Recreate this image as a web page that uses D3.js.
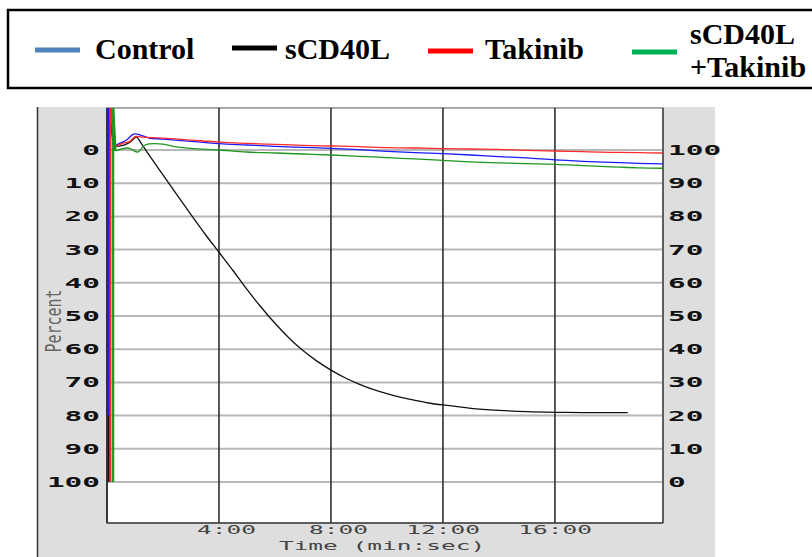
<!DOCTYPE html>
<html>
<head>
<meta charset="utf-8">
<script src="https://cdn.jsdelivr.net/npm/d3@7"></script>
<style>
  body { margin: 0; background: #fff; }
  svg { display: block; }
</style>
</head>
<body>
<svg id="chart" width="812" height="557"></svg>
<script>
// legend
var seriesNames = ["Control", "sCD40L", "Takinib", "sCD40L\n+Takinib"];
var legendColors = ["#4f81bd", "#000000", "#ff0000", "#00b050"];
var lineColors = ["#1a1aff", "#111111", "#ff2a2a", "#1e961e"];

// ticks
var percentTicks = [0, 10, 20, 30, 40, 50, 60, 70, 80, 90, 100];
var timeTicks = [4, 8, 12, 16];
var timeLabels = ["4:00", "8:00", "12:00", "16:00"];

// traces, [minutes, percent]; first two points are the injection spike
var controlData = [[0.03, 80], [0.03, -14], [0.25, -1], [0.45, -2], [0.7, -3], [0.95, -4.8], [1.2, -4.5], [1.5, -3.6],
  [2, -3.3], [3, -2.6], [4, -1.9], [5, -1.5], [6, -1.1], [7, -0.8], [8, -0.5], [9, -0.1], [10, 0.4], [11, 0.8],
  [12, 1.1], [13, 1.5], [14, 2.0], [15, 2.4], [16, 3.0], [17, 3.4], [18, 3.7], [19, 4.0], [19.86, 4.2]];
var sCD40LData = [[0.07, 100], [0.07, -14], [0.3, -1], [0.6, -1.5], [0.85, -2.5], [1.05, -3.9], [1.2, -2.3], [1.5, 1.5],
  [2, 7.5], [2.5, 13.5], [3, 19.5], [3.5, 25.3], [4, 30.8], [4.5, 36.3], [5, 42], [5.5, 47.3], [6, 52.2], [6.5, 56.6],
  [7, 60.4], [7.5, 63.6], [8, 66.3], [8.5, 68.6], [9, 70.5], [9.5, 72.1], [10, 73.4], [10.5, 74.5], [11, 75.4],
  [11.5, 76.2], [12, 76.8], [13, 77.8], [14, 78.4], [15, 78.8], [16, 79.0], [17, 79.1], [18.6, 79.1]];
var takinibData = [[0.12, 100], [0.12, -14], [0.3, -1], [0.55, -2], [0.8, -2.5], [1.0, -4], [1.25, -3.9], [2, -3.6],
  [3, -3.0], [4, -2.4], [5, -2.0], [6, -1.7], [7, -1.4], [8, -1.2], [9, -1.0], [10, -0.7], [11, -0.6], [12, -0.4],
  [13, -0.3], [14, -0.2], [15, 0.1], [16, 0.3], [17, 0.5], [18, 0.7], [19, 0.8], [19.86, 0.9]];
var comboData = [[0.22, 100], [0.22, -14], [0.3, 0.3], [0.75, -0.6], [1.1, 0.6], [1.36, -1.5], [2, -1.8], [2.4, -1.0],
  [3, -0.5], [4, 0], [5, 0.6], [6, 0.9], [7, 1.2], [8, 1.5], [9, 1.9], [10, 2.3], [11, 2.7], [12, 3.1], [13, 3.6],
  [14, 3.9], [15, 4.1], [16, 4.3], [17, 4.7], [18, 5.1], [19, 5.4], [19.86, 5.5]];
var allSeries = [controlData, sCD40LData, takinibData, comboData];
var drawOrder = [1, 0, 2, 3];

var svg = d3.select("#chart");

// legend box
svg.append("rect").attr("x", 8).attr("y", 10).attr("width", 830).attr("height", 78)
  .attr("fill", "#fff").attr("stroke", "#000").attr("stroke-width", 2.5);

var legendX = [35, 232, 428, 632];
var legendLineY = [50, 48, 51, 52];
var legendTextX = [95, 285, 485, 690];

for (var i = 0; i < seriesNames.length; i++) {
  svg.append("line").attr("x1", legendX[i]).attr("x2", legendX[i] + 45)
    .attr("y1", legendLineY[i]).attr("y2", legendLineY[i])
    .attr("stroke", legendColors[i]).attr("stroke-width", 5);
  var parts = seriesNames[i].split("\n");
  var t = svg.append("text").attr("x", legendTextX[i]).attr("y", parts.length > 1 ? 44 : 59)
    .attr("font-family", "Liberation Serif, Times New Roman, serif").attr("font-weight", "bold")
    .attr("font-size", 30).attr("fill", "#000");
  parts.forEach(function(p, j) {
    t.append("tspan").attr("x", legendTextX[i]).attr("dy", j == 0 ? 0 : 33).text(p);
  });
}

// gray panel
svg.append("rect").attr("x", 37).attr("y", 107).attr("width", 678).attr("height", 450).attr("fill", "#dedede");
svg.append("line").attr("x1", 37.5).attr("x2", 37.5).attr("y1", 107).attr("y2", 557)
  .attr("stroke", "#333").attr("stroke-width", 1.5);

var x = d3.scaleLinear().domain([0, 19.86]).range([107, 663]);
var y = d3.scaleLinear().domain([0, 100]).range([150, 482]);

svg.append("rect").attr("x", 107).attr("y", 108).attr("width", 556).attr("height", 415)
  .attr("fill", "#fff").attr("stroke", "#666").attr("stroke-width", 1);
svg.append("clipPath").attr("id", "plotclip").append("rect")
  .attr("x", 107).attr("y", 108).attr("width", 556).attr("height", 415);

// horizontal grid
svg.selectAll(".hgrid").data(percentTicks).enter().append("line")
  .attr("class", "hgrid")
  .attr("x1", 107).attr("x2", 663)
  .attr("y1", function(d) { return y(d); }).attr("y2", function(d) { return y(d); })
  .attr("stroke", "#b8b8b8").attr("stroke-width", 2);

// vertical grid
svg.selectAll(".vgrid").data(timeTicks).enter().append("line")
  .attr("class", "vgrid")
  .attr("x1", function(d) { return x(d); }).attr("x2", function(d) { return x(d); })
  .attr("y1", 108).attr("y2", 523)
  .attr("stroke", "#222").attr("stroke-width", 1.5);

// frame edges
svg.append("line").attr("x1", 107).attr("x2", 107).attr("y1", 108).attr("y2", 523).attr("stroke", "#111").attr("stroke-width", 1.5);
svg.append("line").attr("x1", 663).attr("x2", 663).attr("y1", 108).attr("y2", 523).attr("stroke", "#444").attr("stroke-width", 1.5);
svg.append("line").attr("x1", 107).attr("x2", 663).attr("y1", 523).attr("y2", 523).attr("stroke", "#444").attr("stroke-width", 1.5);

// traces
var spikeLine = d3.line().x(function(d) { return x(d[0]); }).y(function(d) { return y(d[1]); });
var traceLine = d3.line().curve(d3.curveCatmullRom.alpha(0.5))
  .x(function(d) { return x(d[0]); }).y(function(d) { return y(d[1]); });
var plot = svg.append("g").attr("clip-path", "url(#plotclip)");

drawOrder.forEach(function(k) {
  var d = allSeries[k];
  plot.append("path")
    .attr("d", spikeLine(d.slice(0, 3)))
    .attr("fill", "none").attr("stroke", lineColors[k]).attr("stroke-width", 2.2);
  plot.append("path")
    .attr("d", traceLine(d.slice(2)))
    .attr("fill", "none").attr("stroke", lineColors[k]).attr("stroke-width", 1.3);
});

// left axis labels
svg.selectAll(".leftlab").data(percentTicks).enter().append("text")
  .attr("class", "leftlab")
  .attr("transform", function(d) { return "translate(100," + y(d) + ") scale(2.1,1)"; })
  .attr("dy", "0.36em").attr("text-anchor", "end")
  .attr("font-family", "DejaVu Sans Mono, monospace").attr("font-weight", "bold")
  .attr("font-size", 14).attr("fill", "#111")
  .text(function(d) { return d; });

// right axis labels
svg.selectAll(".rightlab").data(percentTicks).enter().append("text")
  .attr("class", "rightlab")
  .attr("transform", function(d) { return "translate(668," + y(d) + ") scale(2.1,1)"; })
  .attr("dy", "0.36em").attr("text-anchor", "start")
  .attr("font-family", "DejaVu Sans Mono, monospace").attr("font-weight", "bold")
  .attr("font-size", 14).attr("fill", "#111")
  .text(function(d) { return 100 - d; });

// time labels
svg.selectAll(".timelab").data(timeTicks).enter().append("text")
  .attr("class", "timelab")
  .attr("transform", function(d) { return "translate(" + (x(d) + 37) + ",534) scale(2.04,1)"; })
  .attr("text-anchor", "end")
  .attr("font-family", "DejaVu Sans Mono, monospace")
  .attr("font-size", 12).attr("fill", "#444")
  .text(function(d, i) { return timeLabels[i]; });

svg.append("text")
  .attr("transform", "translate(382,550) scale(2.04,1)")
  .attr("text-anchor", "middle")
  .attr("font-family", "DejaVu Sans Mono, monospace")
  .attr("font-size", 12).attr("fill", "#444")
  .text("Time (min:sec)");

svg.append("text")
  .attr("transform", "translate(53,321) rotate(-90) scale(1,1.4)")
  .attr("text-anchor", "middle").attr("dy", "0.36em")
  .attr("font-family", "DejaVu Sans Mono, monospace")
  .attr("font-size", 15).attr("fill", "#666")
  .text("Percent");
</script>
</body>
</html>
